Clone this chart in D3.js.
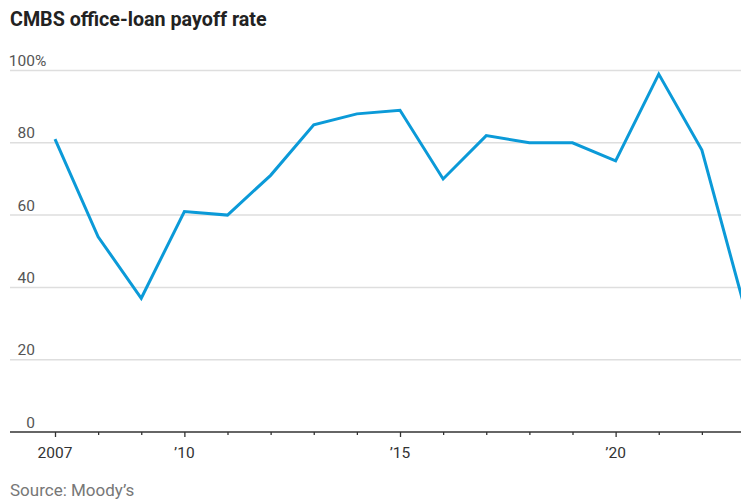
<!DOCTYPE html>
<html>
<head>
<meta charset="utf-8">
<script src="https://cdn.jsdelivr.net/npm/d3@7"></script>
<style>
  html, body { margin: 0; padding: 0; background: #fff; }
  svg { display: block; }
  text { font-family: Roboto, "Noto Sans", sans-serif; }
</style>
</head>
<body>
<svg id="chart" width="741" height="500"></svg>
<script>
// CMBS office-loan payoff rate, by year (%)
const years = [2007, 2008, 2009, 2010, 2011, 2012, 2013, 2014, 2015, 2016, 2017, 2018, 2019, 2020, 2021, 2022, 2023];
const payoffRate = [81, 54, 37, 61, 60, 71, 85, 88, 89, 70, 82, 80, 80, 75, 99, 78, 34];
const yTicks = [0, 20, 40, 60, 80, 100];
const xMajorTicks = [2007, 2010, 2015, 2020];
const xTickLabels = ["2007", "\u201910", "\u201915", "\u201920"];

const W = 741, H = 500;
const svg = d3.select("#chart");

const left = 10, right = 741;
const x = d3.scaleLinear().domain([2007, 2023]).range([55, 745]);
const y = d3.scaleLinear().domain([0, 100]).range([432, 70.5]);

// Title
svg.append("text")
  .attr("x", 10).attr("y", 26)
  .attr("font-size", 19.7).attr("font-weight", 700)
  .attr("fill", "#222")
  .text("CMBS office-loan payoff rate");

// Gridlines
svg.append("g").selectAll("line")
  .data(yTicks.filter(d => d > 0))
  .join("line")
  .attr("x1", left).attr("x2", right)
  .attr("y1", d => y(d)).attr("y2", d => y(d))
  .attr("stroke", "#dedede").attr("stroke-width", 1.5);

// Y labels (number right-aligned, percent sign hanging on the top one)
svg.append("g").selectAll("text")
  .data(yTicks)
  .join("text")
  .attr("x", 35)
  .attr("y", d => y(d) - 4.5)
  .attr("font-size", 15.5)
  .attr("fill", "#555")
  .attr("text-anchor", "end")
  .text(d => d);
svg.append("text")
  .attr("x", 35).attr("y", y(100) - 4.5)
  .attr("font-size", 15.5).attr("fill", "#555")
  .text("%");

// Line
const line = d3.line()
  .x((d, i) => x(years[i]))
  .y(d => y(d));
svg.append("path")
  .datum(payoffRate)
  .attr("d", line)
  .attr("fill", "none")
  .attr("stroke", "#0b9ad8")
  .attr("stroke-width", 3)
  .attr("stroke-linejoin", "miter");

// X axis
const xAxis = d3.axisBottom(x)
  .tickValues(years)
  .tickSize(0)
  .tickFormat("");
const gx = svg.append("g").attr("transform", `translate(0,${y(0)})`).call(xAxis);
gx.select(".domain").remove();
gx.selectAll(".tick line")
  .attr("y2", d => xMajorTicks.includes(d) ? 5 : 3)
  .attr("stroke", "#333").attr("stroke-width", 1.3);
svg.append("line")
  .attr("x1", left).attr("x2", right)
  .attr("y1", y(0)).attr("y2", y(0))
  .attr("stroke", "#333").attr("stroke-width", 1.5);

svg.append("g").selectAll("text")
  .data(xMajorTicks)
  .join("text")
  .attr("x", d => x(d))
  .attr("y", 458)
  .attr("text-anchor", "middle")
  .attr("font-size", 15.5)
  .attr("fill", "#333")
  .text((d, i) => xTickLabels[i]);

// Source
svg.append("text")
  .attr("x", 10).attr("y", 496)
  .attr("font-size", 17)
  .attr("fill", "#777")
  .text("Source: Moody\u2019s");
</script>
</body>
</html>
